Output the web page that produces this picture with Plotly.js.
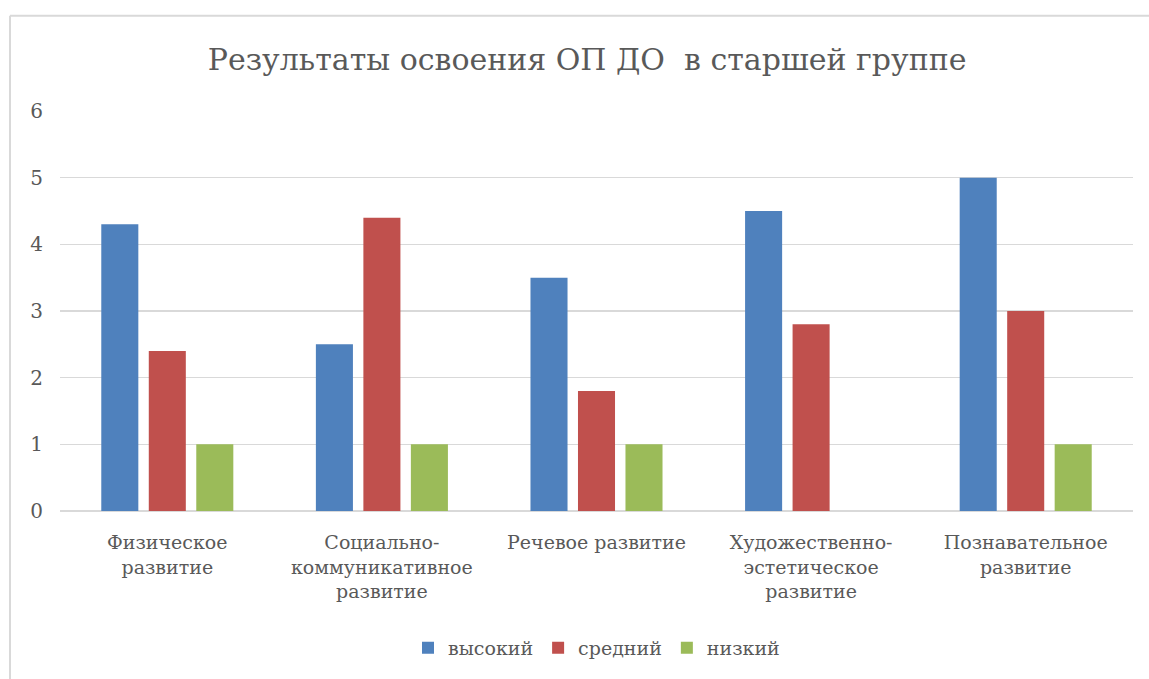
<!DOCTYPE html>
<html>
<head>
<meta charset="utf-8">
<script src="https://cdn.plot.ly/plotly-3.0.1.min.js"></script>
<style>html,body{margin:0;padding:0;background:#fff;overflow:hidden;}#chart{width:1149px;height:679px;}</style>
</head>
<body>
<div id="chart"></div>
<script>
const categories = ["Физическое<br>развитие", "Социально-<br>коммуникативное<br>развитие", "Речевое развитие", "Художественно-<br>эстетическое<br>развитие", "Познавательное<br>развитие"];
const seriesNames = ["высокий", "средний", "низкий"];
const high = [4.3, 2.5, 3.5, 4.5, 5];
const mid = [2.4, 4.4, 1.8, 2.8, 3];
const low = [1, 1, 1, null, 1];
const colors = ["#4F81BD", "#C0504D", "#9BBB59"];

const font = "DejaVu Serif";
const txt = "#595959";

const traces = [high, mid, low].map((vals, i) => ({
  type: "bar",
  name: seriesNames[i],
  x: categories,
  y: vals,
  marker: {color: colors[i]},
  hoverinfo: "x+y+name"
}));

const layout = {
  width: 1149, height: 679,
  paper_bgcolor: "#fff", plot_bgcolor: "#fff",
  margin: {l: 60, r: 16, t: 111, b: 163},
  font: {family: font, color: txt, size: 19},
  title: {text: "Результаты освоения ОП ДО  в старшей группе", font: {family: font, size: 30, color: txt}, x: 0.511, xanchor: "center", y: 0.912, yanchor: "middle"},
  barmode: "group",
  bargap: 0.336,
  bargroupgap: 0.22,
  xaxis: {type: "category", automargin: false, showgrid: false, showline: false, ticks: "", ticklabelstandoff: 18, tickfont: {family: font, size: 19, color: txt}},
  yaxis: {range: [0, 6], dtick: 1, automargin: false, showgrid: true, gridcolor: "#d9d9d9", gridwidth: 1.5, zeroline: true, zerolinecolor: "#d9d9d9", zerolinewidth: 1.5, showline: false, ticks: "", ticklabelstandoff: 16, tickfont: {family: font, size: 20, color: txt}},
  legend: {orientation: "h", x: 0.5, xanchor: "center", y: -0.342, yanchor: "middle", font: {family: font, size: 19, color: txt}, itemwidth: 30, traceorder: "normal"},
  shapes: [
    {type: "line", xref: "paper", yref: "paper", x0: -0.0466, x1: -0.0466, y0: 1.238, y1: -0.45, line: {color: "#d9d9d9", width: 2}},
    {type: "line", xref: "paper", yref: "paper", x0: -0.0466, x1: 1.03, y0: 1.238, y1: 1.238, line: {color: "#d9d9d9", width: 2}}
  ],
  showlegend: true
};

Plotly.newPlot("chart", traces, layout, {displayModeBar: false, staticPlot: true});
</script>
</body>
</html>
